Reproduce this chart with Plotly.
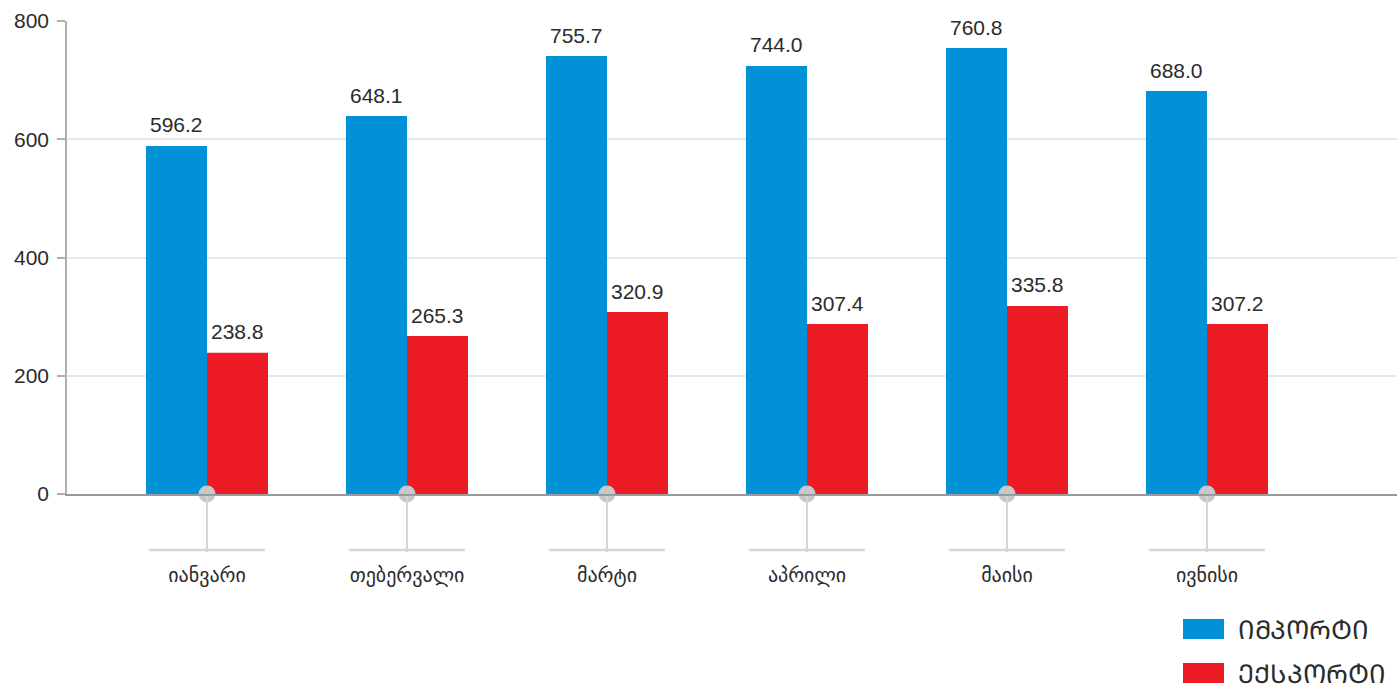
import plotly.graph_objects as go

months = ["იანვარი", "თებერვალი", "მარტი", "აპრილი", "მაისი", "ივნისი"]
import_values = [588.6, 639.3, 740.8, 723.9, 754.3, 681.6]
export_values = [239.0, 267.2, 307.8, 287.5, 318.0, 287.5]
import_labels = ["596.2", "648.1", "755.7", "744.0", "760.8", "688.0"]
export_labels = ["238.8", "265.3", "320.9", "307.4", "335.8", "307.2"]
series_names = ["ᲘᲛᲞᲝᲠᲢᲘ", "ᲔᲥᲡᲞᲝᲠᲢᲘ"]
y_ticks = [0, 200, 400, 600, 800]

BLUE = "#0091d6"
RED = "#ed1c24"
TEXT = "#2b2b2b"
FONT = "Liberation Sans, Arial, DejaVu Sans, sans-serif"

fig = go.Figure()
fig.add_trace(go.Bar(x=months, y=import_values, name=series_names[0],
                     marker=dict(color=BLUE, line=dict(width=0)),
                     hoverinfo="skip", showlegend=False))
fig.add_trace(go.Bar(x=months, y=export_values, name=series_names[1],
                     marker=dict(color=RED, line=dict(width=0)),
                     hoverinfo="skip", showlegend=False))
# pins at category centers
fig.add_trace(go.Scatter(x=months, y=[0] * len(months), mode="markers",
                         marker=dict(size=17, color="#c8c8ca", line=dict(width=0)),
                         cliponaxis=False, hoverinfo="skip", showlegend=False))

annotations = []
for i, m in enumerate(months):
    annotations.append(dict(x=m, y=import_values[i], text=import_labels[i], xref="x", yref="y",
                            xshift=-30.5, yshift=21, yanchor="middle", showarrow=False,
                            font=dict(size=21, color=TEXT, family=FONT)))
    annotations.append(dict(x=m, y=export_values[i], text=export_labels[i], xref="x", yref="y",
                            xshift=30.5, yshift=21, yanchor="middle", showarrow=False,
                            font=dict(size=21, color=TEXT, family=FONT)))

# custom legend
legend_colors = [BLUE, RED]
shapes = []
for k, (nm, col) in enumerate(zip(series_names, legend_colors)):
    top = -125 - k * 44
    shapes.append(dict(type="rect", xref="paper", yref="paper",
                       xsizemode="pixel", ysizemode="pixel", xanchor=1, yanchor=0,
                       x0=-214, x1=-173, y0=top - 20, y1=top,
                       fillcolor=col, line=dict(width=0)))
    annotations.append(dict(x=1, y=0, xref="paper", yref="paper", xshift=-161, yshift=top - 11,
                            xanchor="left", yanchor="middle", text=nm, showarrow=False,
                            font=dict(size=26, color=TEXT, family="DejaVu Sans, Noto Sans, sans-serif")))

# horizontal bars below pins
for i in range(len(months)):
    shapes.append(dict(type="line", xref="x", yref="paper", ysizemode="pixel", yanchor=0,
                       x0=i - 0.29, x1=i + 0.29, y0=-56, y1=-56,
                       line=dict(color="#d6d6d6", width=2.5)))

fig.update_layout(
    width=1397, height=688,
    margin=dict(l=67, r=0, t=21, b=194),
    paper_bgcolor="white", plot_bgcolor="white",
    barmode="group", bargap=0.39, bargroupgap=0,
    font=dict(family=FONT, size=20, color=TEXT),
    annotations=annotations, shapes=shapes,
    showlegend=False,
    xaxis=dict(range=[-0.70, 5.95], showline=True, linecolor="#9a9a9a", linewidth=1.5,
               ticks="outside", ticklen=56, tickwidth=1.5, tickcolor="#d6d6d6",
               tickfont=dict(size=20, color=TEXT, family="DejaVu Sans, sans-serif"),
               ticklabelstandoff=6, showgrid=False, zeroline=False, fixedrange=True),
    yaxis=dict(range=[0, 800], tickvals=y_ticks, showline=True, linecolor="#b0b0b0", linewidth=1.5,
               ticks="outside", ticklen=8, tickcolor="#b0b0b0", tickwidth=1.5,
               showgrid=True, gridcolor="#e8e8e8", gridwidth=1.5, zeroline=False,
               tickfont=dict(size=21, color=TEXT, family=FONT), ticklabelstandoff=4, fixedrange=True),
)

fig.write_html("out.html", config={"displayModeBar": False},
               post_script="document.body.style.margin='0';")
